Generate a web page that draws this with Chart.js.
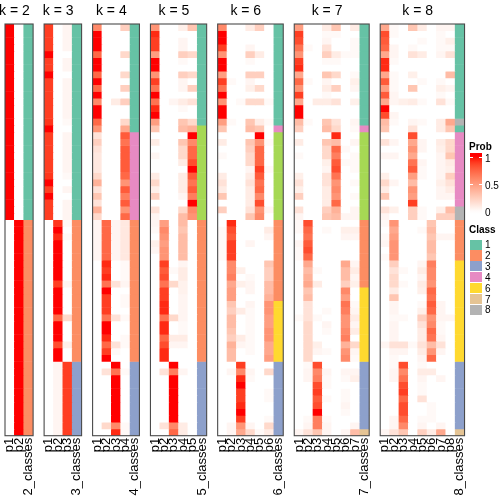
<!DOCTYPE html>
<html>
<head>
<meta charset="utf-8">
<script src="https://cdn.jsdelivr.net/npm/chart.js@4.4.1/dist/chart.umd.min.js"></script>
<style>
  body { margin: 0; background: #fff; }
  #wrap { position: relative; width: 504px; height: 504px; overflow: hidden; font-family: "Liberation Sans", Arial, sans-serif; }
  #wrap canvas { position: absolute; top: 0; }
  .lg { position: absolute; font-size: 10px; line-height: 10px; color: #000; white-space: nowrap; }
  .lg.b { font-weight: bold; }
  .sw { position: absolute; width: 12px; }
</style>
</head>
<body>
<div id="wrap"></div>
<script>
// number of clusters shown in each panel
const kValues = [2, 3, 4, 5, 6, 7, 8];

// class membership, top row first, as [class, number of rows]
const classRuns2 = [[1, 29], [2, 32]];
const classRuns3 = [[1, 29], [2, 21], [3, 11]];
const classRuns4 = [[1, 16], [4, 13], [2, 21], [3, 11]];
const classRuns5 = [[1, 15], [5, 14], [2, 21], [3, 11]];
const classRuns6 = [[1, 15], [4, 1], [5, 13], [2, 12], [6, 9], [3, 11]];
const classRuns7 = [[1, 15], [4, 1], [5, 13], [2, 10], [6, 11], [3, 10], [7, 1]];
const classRuns8 = [[1, 14], [8, 1], [1, 1], [4, 11], [8, 2], [2, 6], [6, 15], [3, 10], [7, 1]];

// membership probabilities in percent, one row per sample (p1..pk)
const prob2 = [
  [100,0],[100,0],[100,0],[100,0],[100,0],[100,0],[100,0],[100,0],[100,0],[100,0],
  [100,0],[100,0],[100,0],[100,0],[100,0],[100,0],[100,0],[100,0],[100,0],[100,0],
  [100,0],[100,0],[100,0],[100,0],[100,0],[100,0],[100,0],[100,0],[100,0],[0,100],
  [0,100],[0,100],[0,100],[0,100],[0,100],[0,100],[0,100],[0,100],[0,100],[0,100],
  [0,100],[0,100],[0,100],[0,100],[0,100],[0,100],[0,100],[0,100],[0,100],[0,100],
  [0,100],[0,100],[0,100],[0,100],[0,100],[0,100],[0,100],[0,100],[0,100],[0,100],
  [0,100]
];
const prob3 = [
  [90,0,5],[90,0,5],[90,0,5],[90,0,5],[100,0,0],[90,0,5],[90,0,5],[100,0,0],[90,0,5],[90,0,5],
  [90,0,5],[90,0,5],[90,0,5],[90,0,5],[92,0,3],[100,0,0],[90,0,5],[90,0,5],[90,0,5],[90,0,5],
  [90,0,5],[90,0,5],[92,0,3],[100,0,0],[90,0,5],[100,0,0],[90,0,5],[90,0,5],[90,0,5],[0,92,3],
  [0,100,0],[0,95,3],[0,100,0],[0,100,0],[0,100,0],[0,100,0],[0,100,0],[0,100,0],[0,90,5],[0,100,0],
  [0,100,0],[0,100,0],[0,100,0],[0,75,20],[0,100,0],[0,100,0],[0,100,0],[0,85,8],[0,100,0],[0,100,0],
  [0,5,90],[0,5,90],[0,5,90],[0,5,90],[0,5,90],[0,5,90],[0,5,90],[0,5,90],[0,5,90],[0,5,90],
  [0,5,90]
];
const prob4 = [
  [60,0,0,25],[100,0,0,0],[100,0,0,0],[100,0,0,0],[75,0,0,20],[100,0,0,0],[100,0,0,0],[75,0,0,20],[100,0,0,0],[75,0,0,25],
  [100,0,0,0],[60,0,10,25],[100,0,0,0],[100,0,0,0],[75,0,0,20],[55,0,0,45],[15,0,0,80],[25,0,0,70],[15,0,0,80],[12,0,0,80],
  [12,0,0,80],[12,0,0,80],[20,0,0,75],[40,0,0,55],[15,0,0,80],[30,0,0,65],[15,0,0,80],[40,0,0,55],[20,0,0,75],[5,75,5,12],
  [5,75,5,12],[5,75,5,12],[5,75,5,12],[5,75,5,12],[5,75,5,12],[0,95,0,3],[0,90,0,3],[0,95,0,3],[0,70,15,5],[0,100,0,0],
  [0,90,0,3],[0,90,0,3],[0,90,0,0],[0,70,15,3],[0,100,0,0],[0,100,0,0],[0,95,0,3],[0,75,15,3],[0,90,3,0],[0,100,0,0],
  [0,0,100,0],[0,15,70,3],[0,0,100,0],[0,0,100,0],[0,0,100,0],[0,0,100,0],[0,0,100,0],[0,0,100,0],[0,0,100,0],[0,20,60,3],
  [0,0,95,3]
];
const prob5 = [
  [55,0,0,8,30],[95,0,0,0,0],[90,0,0,5,0],[90,0,0,5,0],[50,0,0,25,20],[100,0,0,3,0],[100,0,0,0,0],[55,0,0,25,20],[90,0,0,5,0],[70,0,0,5,25],
  [100,0,0,0,0],[70,0,5,10,15],[95,0,0,3,0],[100,0,0,0,0],[50,0,0,30,20],[30,0,0,35,40],[0,0,0,0,100],[10,0,0,30,60],[0,0,0,20,75],[5,0,0,20,75],
  [0,0,0,10,85],[0,0,0,0,100],[10,0,0,10,80],[20,0,0,10,70],[8,0,0,10,80],[25,0,0,5,65],[0,0,0,0,100],[15,0,0,20,60],[5,0,0,35,55],[5,50,0,35,0],
  [3,60,0,30,0],[0,55,0,35,0],[8,50,0,35,0],[5,55,0,35,0],[0,55,0,35,0],[0,90,0,5,0],[0,80,3,10,0],[0,85,0,10,0],[0,70,20,7,0],[0,90,0,7,0],
  [0,90,0,5,0],[0,95,0,5,0],[0,95,0,5,0],[0,70,20,5,0],[0,95,0,3,0],[0,95,0,3,0],[0,75,10,10,0],[0,85,5,5,0],[0,95,0,0,0],[0,95,0,0,0],
  [0,0,100,0,0],[0,15,65,5,0],[0,0,100,0,0],[0,0,100,0,0],[0,0,100,0,0],[0,0,100,0,0],[0,0,100,0,0],[0,0,100,0,0],[0,0,100,0,0],[0,15,60,10,0],
  [0,0,75,10,0]
];
const prob6 = [
  [60,0,0,10,25,0],[100,0,0,0,0,0],[100,0,0,0,0,0],[90,0,0,5,0,0],[55,0,0,25,10,0],[100,0,0,3,0,0],[100,0,0,0,0,0],[50,0,0,25,25,0],[90,3,0,5,0,0],[70,0,0,8,20,0],
  [100,0,0,0,0,0],[55,0,3,20,20,3],[100,0,0,0,0,0],[100,0,0,0,0,0],[50,3,0,30,10,3],[30,0,0,35,30,0],[0,0,0,0,100,0],[10,0,0,30,55,3],[0,0,0,25,75,0],[3,0,0,20,75,0],
  [0,0,0,20,75,0],[0,0,0,5,90,3],[10,0,0,10,80,0],[15,0,0,15,70,0],[10,0,0,10,75,0],[30,0,0,10,60,0],[0,0,0,10,85,0],[25,0,0,15,55,5],[0,0,0,30,60,0],[0,95,0,0,0,0],
  [3,85,0,0,0,10],[3,80,0,0,0,5],[3,90,0,5,0,0],[3,90,0,0,0,0],[3,90,0,0,0,0],[0,60,0,0,0,30],[0,60,8,0,0,25],[0,65,0,3,0,25],[0,45,8,5,0,35],[0,50,0,5,0,35],
  [0,50,0,0,0,40],[0,30,0,5,0,55],[0,25,10,3,0,55],[0,35,0,3,0,50],[0,35,0,3,0,50],[0,30,0,3,0,55],[0,25,10,3,0,55],[0,40,5,3,0,45],[0,35,0,3,0,45],[0,35,0,0,0,50],
  [0,0,90,0,0,0],[0,5,60,5,0,20],[0,0,95,3,0,0],[0,0,100,0,0,0],[0,0,90,0,0,3],[0,0,90,0,0,3],[0,0,95,0,0,0],[0,0,100,0,0,0],[0,0,90,0,0,3],[0,5,55,5,0,20],
  [0,5,45,20,3,10]
];
const prob7 = [
  [50,0,0,10,30,0,10],[90,0,0,3,3,0,0],[85,0,0,5,0,0,3],[70,3,0,15,0,0,3],[55,0,0,25,10,3,3],[90,0,0,3,3,0,0],[95,0,0,0,0,0,0],[45,0,0,30,20,0,3],[75,3,0,5,0,0,8],[55,0,0,10,25,0,5],
  [90,0,0,3,0,0,0],[45,0,10,10,15,0,8],[100,0,0,0,0,0,0],[100,0,0,0,0,0,0],[35,3,0,30,15,0,5],[25,0,0,35,20,0,3],[0,0,0,0,95,0,0],[10,0,0,30,35,0,5],[0,0,0,20,75,3,0],[3,0,0,20,65,0,3],
  [0,0,0,8,80,3,3],[0,0,0,5,85,0,3],[8,0,0,15,70,0,0],[15,0,0,15,55,0,3],[8,0,0,10,60,0,0],[25,0,0,10,55,0,3],[0,0,0,10,75,0,0],[15,0,0,25,40,0,5],[5,0,0,30,35,5,5],[3,85,0,0,0,0,0],
  [3,75,0,3,0,8,8],[0,70,0,0,0,5,5],[5,80,0,0,0,0,0],[3,85,0,0,0,0,0],[3,75,0,0,0,0,0],[0,45,0,0,0,45,5],[0,35,3,0,0,35,10],[0,40,0,0,0,35,5],[0,45,10,0,0,25,8],[0,30,0,0,0,60,0],
  [0,35,0,0,0,50,0],[0,15,0,0,0,70,3],[0,15,0,3,0,65,5],[3,15,3,0,0,55,10],[0,20,0,5,0,55,5],[0,20,0,3,0,60,10],[0,20,0,0,0,65,0],[0,20,8,0,0,40,20],[0,20,5,3,0,55,5],[0,20,0,0,0,60,3],
  [0,3,85,0,0,0,0],[0,5,60,5,0,5,5],[0,5,65,3,0,3,8],[0,0,85,3,0,0,0],[0,0,90,0,0,3,0],[0,0,80,3,0,3,0],[0,0,85,0,0,5,0],[0,0,100,0,0,3,0],[0,3,65,3,0,0,0],[0,5,65,5,0,0,5],
  [5,15,30,5,0,5,35]
];
const prob8 = [
  [45,3,0,30,10,0,5,5],[85,3,0,0,0,0,3,0],[80,0,0,0,3,0,3,8],[75,5,0,3,0,0,3,3],[45,5,0,15,10,0,5,15],[95,3,0,0,0,0,0,0],[95,0,0,0,0,0,0,0],[45,3,0,8,0,0,0,35],[80,3,0,0,3,0,3,0],[50,3,0,30,0,0,8,5],
  [80,5,0,0,0,0,3,0],[45,5,8,10,3,0,15,3],[100,0,0,0,0,0,0,0],[85,5,0,0,0,0,0,0],[35,3,0,5,3,0,10,45],[30,0,0,15,0,0,10,30],[0,0,0,85,0,0,0,0],[15,5,0,45,5,0,10,20],[0,0,0,55,5,0,8,20],[5,5,0,45,0,0,5,30],
  [0,0,0,70,5,0,5,10],[0,0,0,80,3,0,5,8],[8,0,0,50,3,0,5,25],[20,5,0,35,0,0,8,15],[10,0,0,55,0,0,5,10],[30,0,0,50,0,0,5,5],[0,0,0,90,0,0,0,0],[15,8,0,25,3,0,8,35],[5,0,0,25,3,0,25,25],[3,55,0,0,0,30,0,0],
  [0,45,0,0,3,35,0,0],[3,50,0,0,0,30,5,5],[5,55,0,0,0,35,0,0],[0,55,0,0,0,35,0,0],[3,55,0,0,0,30,0,0],[0,25,0,0,5,65,0,0],[0,15,3,0,10,60,0,0],[0,20,0,0,5,60,0,0],[0,20,3,0,10,55,0,0],[0,10,0,0,8,75,0,0],
  [0,30,0,0,0,70,0,0],[0,5,0,0,3,80,5,0],[0,5,0,0,8,75,5,0],[0,3,3,0,25,55,5,5],[0,5,0,0,15,60,3,0],[0,5,0,0,10,75,3,0],[0,5,0,0,10,70,5,0],[5,15,15,3,15,35,15,0],[0,5,5,0,10,55,5,0],[0,3,0,0,5,75,0,0],
  [0,3,85,0,3,0,0,0],[0,5,60,0,10,10,0,0],[0,5,70,0,5,0,5,0],[0,0,85,0,3,0,0,0],[0,0,90,0,3,0,0,0],[0,0,75,0,15,0,0,0],[0,0,85,0,0,3,0,0],[0,0,85,0,0,3,0,0],[0,5,75,0,3,3,0,0],[0,5,60,0,5,0,5,0],
  [5,15,30,0,25,10,45,0]
];

const probs = { 2: prob2, 3: prob3, 4: prob4, 5: prob5, 6: prob6, 7: prob7, 8: prob8 };
const classRuns = { 2: classRuns2, 3: classRuns3, 4: classRuns4, 5: classRuns5, 6: classRuns6, 7: classRuns7, 8: classRuns8 };

const legendClasses = [1, 2, 3, 4, 6, 7, 8];
const probTicks = [1, 0.5, 0];
const probTickLabels = ['1', '0.5', '0'];

const classColors = { 1: '#66C2A5', 2: '#FC8D62', 3: '#8DA0CB', 4: '#E78AC3', 5: '#A6D854', 6: '#FFD92F', 7: '#E5C494', 8: '#B3B3B3' };

// white -> red, interpolated in LAB like circlize::colorRamp2
function probColor(p) {
  p = Math.max(0, Math.min(1, p));
  const L = 100 + (53.2408 - 100) * p, a = 80.0925 * p, b = 67.2032 * p;
  const fy = (L + 16) / 116, fx = fy + a / 500, fz = fy - b / 200;
  const inv = t => t > 6 / 29 ? t * t * t : 3 * (6 / 29) * (6 / 29) * (t - 4 / 29);
  const X = 0.95047 * inv(fx), Y = inv(fy), Z = 1.08883 * inv(fz);
  const lin = [
    3.2406 * X - 1.5372 * Y - 0.4986 * Z,
    -0.9689 * X + 1.8758 * Y + 0.0415 * Z,
    0.0557 * X - 0.2040 * Y + 1.0570 * Z
  ];
  const c = lin.map(v => {
    v = Math.max(0, Math.min(1, v));
    v = v <= 0.0031308 ? 12.92 * v : 1.055 * Math.pow(v, 1 / 2.4) - 0.055;
    return Math.round(v * 255);
  });
  return 'rgb(' + c.join(',') + ')';
}

function expandRuns(runs) {
  const out = [];
  runs.forEach(([c, n]) => { for (let i = 0; i < n; i++) out.push(c); });
  return out;
}

const wrap = document.getElementById('wrap');
const FONT = '"Liberation Sans", Arial, sans-serif';
const plotTop = 24, plotBottom = 435.7;
const cellW = 9.37, gap = 11, firstLeft = 5;

// frame and "k = n" title for each panel
const panelDeco = {
  id: 'panelDeco',
  afterDraw(chart) {
    const { ctx, chartArea } = chart;
    const k = chart.options.plugins.panelDeco.k;
    const xs = chart.scales.x;
    const cw = xs.width / (k + 1);
    ctx.save();
    ctx.strokeStyle = '#4a4a4a';
    ctx.lineWidth = 1.1;
    ctx.strokeRect(chartArea.left, chartArea.top, chartArea.right - chartArea.left, chartArea.bottom - chartArea.top);
    ctx.fillStyle = '#000';
    ctx.font = '14px ' + FONT;
    ctx.textAlign = 'center';
    ctx.textBaseline = 'middle';
    ctx.fillText('k = ' + k, xs.left + cw * k / 2, 11);
    ctx.restore();
  }
};

let left = firstLeft;
kValues.forEach(k => {
  const width = cellW * (k + 1);
  const right = left + width;
  const cLeft = Math.floor(left) - 6;
  const cRight = Math.ceil(right) + 6;

  const canvas = document.createElement('canvas');
  canvas.width = cRight - cLeft;
  canvas.height = 504;
  canvas.style.left = cLeft + 'px';
  wrap.appendChild(canvas);

  const labels = [];
  for (let j = 1; j <= k; j++) labels.push('p' + j);
  labels.push(k + '_classes');

  const cls = expandRuns(classRuns[k]);
  const datasets = probs[k].map((row, r) => ({
    data: labels.map(() => [r, r + 1]),
    backgroundColor: row.map(v => probColor(v / 100)).concat(classColors[cls[r]]),
    borderWidth: 0,
    grouped: false,
    barPercentage: 1,
    categoryPercentage: 1
  }));

  new Chart(canvas.getContext('2d'), {
    type: 'bar',
    data: { labels: labels, datasets: datasets },
    options: {
      responsive: false,
      animation: false,
      events: [],
      layout: { padding: { left: left - cLeft, right: cRight - right, top: plotTop, bottom: 0 } },
      scales: {
        x: {
          grid: { display: false, drawTicks: false },
          border: { display: false },
          ticks: {
            autoSkip: false, minRotation: 90, maxRotation: 90, padding: 2,
            color: '#000', font: { family: FONT, size: 13 }
          },
          afterFit: s => {
            s.height = 504 - plotBottom;
            s.paddingLeft = 0;
            s.paddingRight = 0;
          }
        },
        y: { type: 'linear', min: 0, max: probs[k].length, reverse: true, display: false }
      },
      plugins: {
        legend: { display: false },
        tooltip: { enabled: false },
        title: { display: false },
        panelDeco: { k: k }
      }
    },
    plugins: [panelDeco]
  });

  left = right + gap;
});

// legends
function addText(txt, x, yc, bold) {
  const d = document.createElement('div');
  d.className = 'lg' + (bold ? ' b' : '');
  d.textContent = txt;
  d.style.left = x + 'px';
  d.style.top = (yc - 5) + 'px';
  wrap.appendChild(d);
}

const barTop = 153, barBottom = 214, y1 = 157.5, y0 = 212;
addText('Prob', 469, 146.5, true);
const bar = document.createElement('div');
bar.className = 'sw';
const stops = [];
for (let i = 0; i <= 20; i++) {
  const y = barTop + (barBottom - barTop) * i / 20;
  stops.push(probColor((y0 - y) / (y0 - y1)) + ' ' + (i * 5) + '%');
}
bar.style.cssText = 'left:469.5px;top:' + barTop + 'px;height:' + (barBottom - barTop) + 'px;background:linear-gradient(to bottom,' + stops.join(',') + ')';
wrap.appendChild(bar);
probTicks.forEach((t, i) => {
  const y = y0 - (y0 - y1) * t;
  if (t > 0) {
    [469.5, 478.5].forEach(x => {
      const m = document.createElement('div');
      m.style.cssText = 'position:absolute;left:' + x + 'px;top:' + (y - 0.5) + 'px;width:3px;height:1px;background:#fff';
      wrap.appendChild(m);
    });
  }
  addText(probTickLabels[i], 485, y + 1, false);
});

addText('Class', 469, 230, true);
legendClasses.forEach((c, i) => {
  const top = 239.5 + i * 10.9;
  const s = document.createElement('div');
  s.className = 'sw';
  s.style.cssText = 'left:469.5px;top:' + top + 'px;height:10.2px;background:' + classColors[c];
  wrap.appendChild(s);
  addText(String(c), 485, top + 5.5, false);
});
</script>
</body>
</html>
